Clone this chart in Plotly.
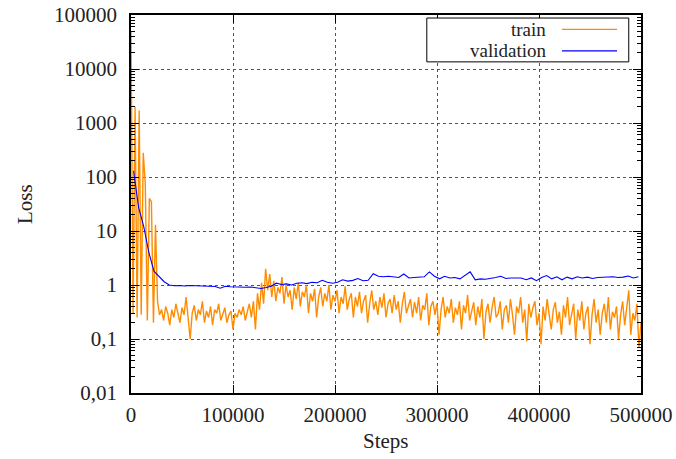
import plotly.graph_objects as go

series_names = ["train", "validation"]

train_step = 2000
train_loss = [
    50000, 0.3, 2000, 0.25, 1700, 0.28, 280, 75, 0.22, 40,
    35, 0.2, 13, 0.5, 0.28, 0.35, 0.22, 0.4, 0.3, 0.18,
    0.35, 0.25, 0.45, 0.3, 0.2, 0.38, 0.28, 0.6, 0.25, 0.1,
    0.3, 0.42, 0.22, 0.35, 0.28, 0.5, 0.2, 0.33, 0.25, 0.4,
    0.18, 0.35, 0.3, 0.45, 0.22, 0.3, 0.38, 0.2, 0.28, 0.33,
    0.15, 0.3, 0.25, 0.35, 0.28, 0.4, 0.22, 0.32, 0.45, 0.25,
    0.5, 0.15, 0.7, 0.35, 1.1, 0.45, 2.0, 0.8, 1.6, 0.6,
    1.2, 0.5, 0.9, 0.7, 1.4, 0.45, 1.0, 0.6, 0.8, 0.35,
    0.9, 0.55, 1.1, 0.4, 0.75, 0.6, 1.0, 0.3, 0.7, 0.5,
    0.85, 0.25, 0.6, 0.9, 0.4, 0.7, 0.5, 1.0, 0.35, 0.65,
    0.5, 0.8, 0.3, 0.6, 0.45, 0.95, 0.35, 0.55, 0.7, 0.25,
    0.6, 0.4, 0.75, 0.3, 0.5, 0.65, 0.2, 0.45, 0.8, 0.35,
    0.5, 0.28, 0.6, 0.38, 0.7, 0.25, 0.45, 0.55, 0.3, 0.65,
    0.35, 0.5, 0.2, 0.45, 0.75, 0.3, 0.4, 0.55, 0.25, 0.48,
    0.3, 0.6, 0.22, 0.42, 0.35, 0.7, 0.18, 0.4, 0.5, 0.28,
    0.45, 0.12, 0.35, 0.6, 0.25, 0.4, 0.3, 0.55, 0.2, 0.38,
    0.28, 0.5, 0.15, 0.42, 0.3, 0.65, 0.22, 0.35, 0.48, 0.18,
    0.4, 0.25, 0.55, 0.1, 0.32, 0.45, 0.2, 0.38, 0.6, 0.25,
    0.3, 0.5, 0.15, 0.35, 0.42, 0.2, 0.55, 0.28, 0.12, 0.4,
    0.3, 0.6, 0.2, 0.35, 0.09, 0.45, 0.25, 0.38, 0.5, 0.18,
    0.3, 0.08, 0.4, 0.22, 0.55, 0.28, 0.15, 0.35, 0.48, 0.2,
    0.32, 0.12, 0.42, 0.25, 0.6, 0.18, 0.3, 0.45, 0.1, 0.35,
    0.22, 0.5, 0.15, 0.3, 0.4, 0.08, 0.28, 0.55, 0.2, 0.35,
    0.12, 0.3, 0.45, 0.2, 0.6, 0.15, 0.32, 0.25, 0.4, 0.1,
    0.28, 0.5, 0.18, 0.35, 0.8, 0.12, 0.3, 0.22, 0.45, 0.07,
    0.2,
]
train_steps = [i * train_step for i in range(len(train_loss))]

val_start, val_step = 2500, 5000
val_loss = [
    130, 27, 12, 4, 1.8, 1.45, 1.15, 1.0, 0.97, 0.98,
    0.96, 0.98, 0.97, 0.96, 0.97, 0.95, 0.94, 0.87, 0.95, 0.93,
    0.92, 0.92, 0.91, 0.92, 0.88, 0.86, 0.9, 0.95, 1.08, 1.02,
    1.05, 1.0, 1.08, 1.1, 1.06, 1.12, 1.1, 1.22, 1.12, 1.08,
    1.12, 1.25, 1.18, 1.22, 1.32, 1.2, 1.22, 1.62, 1.45, 1.42,
    1.45, 1.4, 1.38, 1.6, 1.35, 1.38, 1.4, 1.42, 1.75, 1.45,
    1.3, 1.45, 1.35, 1.38, 1.3, 1.5, 1.75, 1.25, 1.3, 1.28,
    1.35, 1.38, 1.45, 1.32, 1.35, 1.33, 1.35, 1.25, 1.35, 1.2,
    1.38, 1.5, 1.3, 1.42, 1.25, 1.4, 1.3, 1.42, 1.35, 1.4,
    1.32, 1.38, 1.4, 1.38, 1.42, 1.38, 1.4, 1.47, 1.35, 1.42,
]
val_steps = [val_start + i * val_step for i in range(len(val_loss))]

x_ticks = [0, 100000, 200000, 300000, 400000, 500000]
x_ticktext = ["0", "100000", "200000", "300000", "400000", "500000"]
y_ticks = [0.01, 0.1, 1, 10, 100, 1000, 10000, 100000]
y_ticktext = ["0,01", "0,1", "1", "10", "100", "1000", "10000", "100000"]

colors = ["#ff8c00", "#0000ff"]
FONT = "Liberation Serif"
FS = 21
LEG_FS = 19

fig = go.Figure()
fig.add_trace(go.Scatter(x=train_steps, y=train_loss, mode="lines", name=series_names[0],
                         line=dict(color=colors[0], width=1.4), showlegend=False))
fig.add_trace(go.Scatter(x=val_steps, y=val_loss, mode="lines", name=series_names[1],
                         line=dict(color=colors[1], width=1.1), showlegend=False))

axis_common = dict(
    showline=True, linecolor="black", linewidth=1.5, mirror="allticks",
    ticks="inside", tickcolor="black", ticklen=8, tickwidth=1,
    showgrid=True, gridcolor="#555555", griddash="dot", gridwidth=1,
    zeroline=False, automargin=False,
    tickfont=dict(family=FONT, size=FS, color="#222"),
)

fig.update_xaxes(range=[0, 500000], tickvals=x_ticks, ticktext=x_ticktext,
                 ticklabelstandoff=2, **axis_common)
fig.update_yaxes(type="log", range=[-2, 5], tickvals=y_ticks, ticktext=y_ticktext,
                 ticklabelstandoff=8,
                 minor=dict(ticks="inside", ticklen=4, tickcolor="black", dtick="D1", showgrid=False),
                 **axis_common)

# legend box
lx0, lx1, ly0, ly1 = 0.580, 0.976, 0.876, 0.992
fig.add_shape(type="rect", xref="paper", yref="paper", x0=lx0, x1=lx1, y0=ly0, y1=ly1,
              line=dict(color="black", width=1), fillcolor="white")
rows_y = [0.962, 0.905]
for name, col, ry in zip(series_names, colors, rows_y):
    fig.add_annotation(xref="paper", yref="paper", x=0.818, y=ry, text=name, showarrow=False,
                       xanchor="right", yanchor="middle", height=19,
                       font=dict(family=FONT, size=LEG_FS, color="#222"))
    fig.add_shape(type="line", xref="paper", yref="paper", x0=0.845, x1=0.953, y0=ry, y1=ry,
                  line=dict(color=col, width=1.2))

fig.add_annotation(xref="paper", yref="paper", x=0.5, y=0, yshift=-48, text="Steps",
                   showarrow=False, xanchor="center", yanchor="middle",
                   font=dict(family=FONT, size=FS, color="#222"))
fig.add_annotation(xref="paper", yref="paper", x=0, y=0.5, xshift=-106, text="Loss",
                   showarrow=False, textangle=-90, xanchor="center", yanchor="middle",
                   font=dict(family=FONT, size=FS, color="#222"))

fig.update_layout(
    width=676, height=459,
    margin=dict(l=131, r=35, t=15, b=66),
    paper_bgcolor="white", plot_bgcolor="white",
    showlegend=False,
)

fig.write_html("out.html")
